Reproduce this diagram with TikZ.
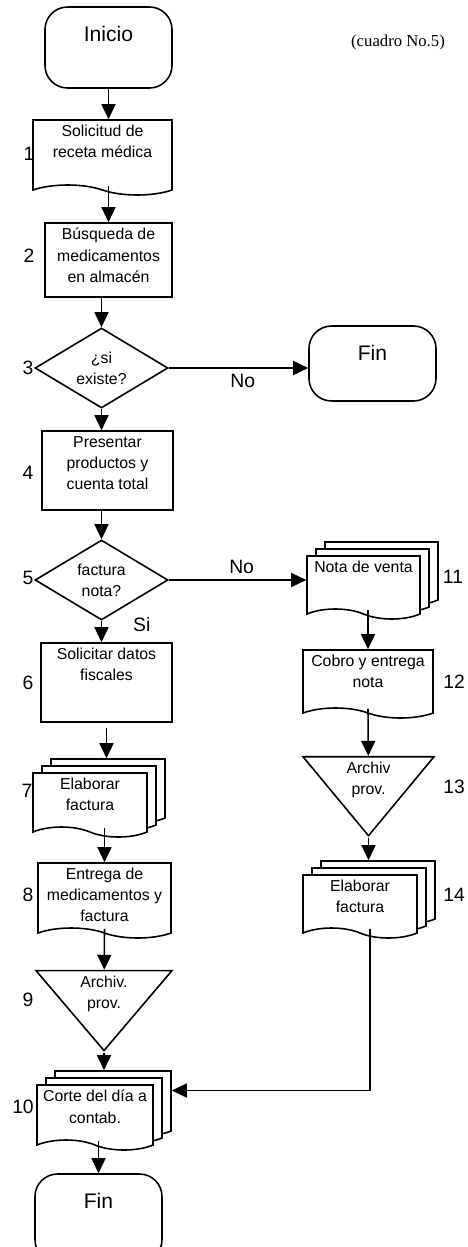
\documentclass[tikz,border=0pt]{standalone}
\usepackage{fontspec}
\setmainfont{Liberation Sans}
\newfontfamily\cuadrofont{Liberation Serif}
\usetikzlibrary{shapes.geometric,shapes.symbols,shadows,arrows.meta}
\begin{document}
\begin{tikzpicture}[line width=.9pt]
		\tikzset{term/.style = {draw, rounded corners=.45cm, minimum width=2.54cm}}
		\tikzset{proc/.style = {draw, rectangle}}
		\tikzset{doc/.style = {draw, fill=white, tape, tape bend top=none, tape bend bottom=out and in, tape bend height=.2cm}}
		\tikzset{docs/.style = {doc, copy shadow={shadow xshift=.36cm, shadow yshift=.28cm, draw=black}, copy shadow={shadow xshift=.18cm, shadow yshift=.14cm, draw=black}}}
		\tikzset{dec/.style = {draw, diamond, aspect=1.66, minimum width=2.66cm, minimum height=1.6cm, inner sep=0pt, align=center, font=\fontsize{9}{12}\selectfont}}
		\tikzset{file/.style = {draw, isosceles triangle, shape border rotate=-90, isosceles triangle stretches, inner sep=0pt}}
		\tikzset{txt/.style = {anchor=north, align=center, inner sep=3pt, font=\fontsize{9}{12}\selectfont}}
		\tikzset{ttxt/.style = {txt, yshift=-.28cm, font=\fontsize{12}{14}\selectfont}}
		\tikzset{num/.style = {font=\fontsize{11}{13}\selectfont}}
		\tikzset{flow/.style = {->, >={Triangle[length=.3cm,width=.28cm]}}}
		\useasboundingbox (0,0) rectangle (9.34,-24.94);
		% left column
		\node[term, minimum height=1.62cm, label={[ttxt]north:Inicio}] (ini) at (2.17,-0.95) {};
		\node[doc, minimum width=2.78cm, minimum height=1.5cm, label={[txt]north:Solicitud de\\receta médica}] (sol) at (2.05,-3.05) {};
		\node[proc, minimum width=2.54cm, minimum height=1.48cm, label={[txt]north:Búsqueda de\\medicamentos\\en almacén}] (busq) at (2.17,-5.2) {};
		\node[dec] (exis) at (2.03,-7.36) {¿si\\existe?};
		\node[proc, minimum width=2.62cm, minimum height=1.58cm, label={[txt]north:Presentar\\productos y\\cuenta total}] (pres) at (2.15,-9.41) {};
		\node[dec] (fac) at (2.03,-11.6) {factura\\nota?};
		\node[proc, minimum width=2.62cm, minimum height=1.58cm, label={[txt]north:Solicitar datos\\fiscales}] (fisc) at (2.13,-13.65) {};
		\node[docs, minimum width=2.28cm, minimum height=1.28cm, label={[txt]north:Elaborar\\factura}] (elab) at (1.8,-16.0) {};
		\node[doc, minimum width=2.66cm, minimum height=1.5cm, label={[txt]north:Entrega de\\medicamentos y\\factura}] (entr) at (2.09,-17.91) {};
		\node[file, minimum width=2.72cm, minimum height=1.6cm, label={[txt]90:Archiv.\\prov.}] (arch) at (2.08,-20.04) {};
		\node[docs, minimum width=2.32cm, minimum height=1.3cm, label={[txt]north:Corte del día a\\contab.}] (corte) at (1.9,-22.25) {};
		\node[term, minimum height=1.76cm, label={[ttxt]north:Fin}] (fin2) at (1.97,-24.36) {};
		% right column
		\node[term, minimum height=1.5cm, label={[ttxt]north:Fin}] (fin1) at (7.45,-7.27) {};
		\node[docs, minimum width=2.26cm, minimum height=1.26cm, label={[txt]north:Nota de venta}] (nota) at (7.27,-11.65) {};
		\node[doc, minimum width=2.6cm, minimum height=1.36cm, label={[txt]north:Cobro y entrega\\nota}] (cobro) at (7.36,-13.58) {};
		\node[file, minimum width=2.62cm, minimum height=1.58cm, label={[txt]90:Archiv\\prov.}] (arch2) at (7.37,-15.75) {};
		\node[docs, minimum width=2.28cm, minimum height=1.26cm, label={[txt]north:Elaborar\\factura}] (elab2) at (7.2,-18.03) {};
		% numbers
		\node[num] (n1) at (0.58,-3.08) {1};
		\node[num] (n2) at (0.58,-5.12) {2};
		\node[num] (n3) at (0.56,-7.36) {3};
		\node[num] (n4) at (0.56,-9.46) {4};
		\node[num] (n5) at (0.56,-11.56) {5};
		\node[num] (n6) at (0.56,-13.66) {6};
		\node[num] (n7) at (0.54,-15.82) {7};
		\node[num] (n8) at (0.56,-17.9) {8};
		\node[num] (n9) at (0.56,-20.0) {9};
		\node[num] (n10) at (0.46,-22.14) {10};
		\node[num] (n11) at (9.06,-11.54) {11};
		\node[num] (n12) at (9.08,-13.64) {12};
		\node[num] (n13) at (9.08,-15.74) {13};
		\node[num] (n14) at (9.08,-17.9) {14};
		\node[font=\cuadrofont\fontsize{9.5}{11}\selectfont] (cuadro) at (7.96,-0.84) {(cuadro No.5)};
		% connectors
		\draw[flow] (ini.south) -- (ini.south |- sol.north);
		\draw[flow] (busq.north |- sol.south) -- (busq.north);
		\draw[flow] (exis.north |- busq.south) -- (exis.north);
		\draw[flow] (exis.east) -- node[num, below, pos=.53] {No} (exis.east -| fin1.west);
		\draw[flow] (exis.south) -- (exis.south |- pres.north);
		\draw[flow] (fac.north |- pres.south) -- (fac.north);
		\draw[flow] (fac.east) -- node[num, above, pos=.53] {No} (fac.east -| nota.west);
		\draw[flow] (fac.south) -- node[num, right=.5cm, pos=.2] {Si} (fac.south |- fisc.north);
		\draw[flow, shorten <=.1cm, shorten >=.28cm] (fisc.south) -- (fisc.south |- elab.north);
		\draw[flow] (entr.north |- elab.south) -- (entr.north);
		\draw[flow] (entr.south) -- (arch);
		\draw[flow, shorten >=.28cm] (arch) -- (arch |- corte.north);
		\draw[flow] (fin2.north |- corte.south) -- (fin2.north);
		\draw[flow] (cobro.north |- nota.south) -- (cobro.north);
		\draw[flow] (cobro.south) -- (arch2);
		\draw[flow, shorten >=.28cm] (arch2) -- (arch2 |- elab2.north);
		\draw[flow] ([xshift=.2cm]elab2.south) |- ([xshift=.36cm,yshift=.44cm]corte.east);
	\end{tikzpicture}
\end{document}
